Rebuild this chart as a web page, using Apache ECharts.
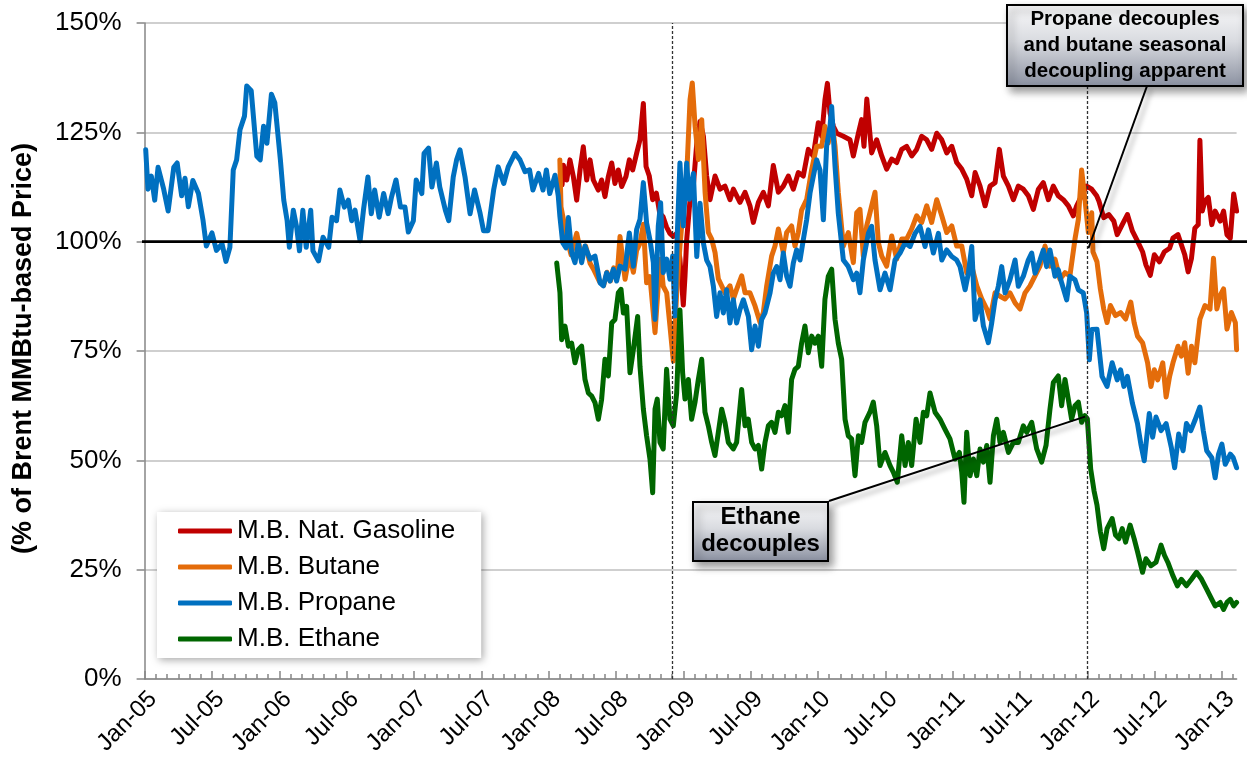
<!DOCTYPE html>
<html><head><meta charset="utf-8">
<script src="https://cdn.jsdelivr.net/npm/echarts@6/dist/echarts.min.js"></script>
<style>html,body{margin:0;padding:0;background:#fff}#c{width:1247px;height:763px}</style>
</head><body><div id="c"></div>
<script>
// x values are months since Jan-05
const xTickLabels = ['Jan-05','Jul-05','Jan-06','Jul-06','Jan-07','Jul-07','Jan-08','Jul-08','Jan-09','Jul-09','Jan-10','Jul-10','Jan-11','Jul-11','Jan-12','Jul-12','Jan-13'];
const seriesNames = ['M.B. Nat. Gasoline','M.B. Butane','M.B. Propane','M.B. Ethane'];
const seriesColors = ['#C00000','#E46C0A','#0070C0','#006600'];
const refLevel = 100;
const eventMonths = [47, 84];
const calloutTexts = ['Propane decouples\nand butane seasonal\ndecoupling apparent', 'Ethane\ndecouples'];
const calloutTargets = [[84.1, 98.5], [83.8, 60]];

const propane = [[0.1,121],[0.3,112],[0.6,115],[0.9,109.5],[1.2,117],[1.7,112],[2.1,107],[2.6,117],[2.9,118],[3.3,110.5],[3.6,114.5],[3.9,108],[4.3,114],[4.8,111],[5.2,105],[5.5,99],[6.0,102],[6.4,98],[6.9,99.5],[7.25,95.5],[7.6,98.7],[7.9,116.4],[8.2,118.7],[8.5,125.6],[8.9,128.7],[9.1,135.6],[9.5,134.5],[10.0,119.5],[10.3,118.7],[10.6,126.4],[10.9,122.5],[11.3,133.7],[11.6,131.8],[12.1,118.7],[12.4,109.5],[12.7,104.8],[12.9,98.7],[13.25,107.2],[13.55,103.3],[13.8,97.9],[14.1,107.2],[14.4,98.7],[14.8,107.2],[15.0,97.9],[15.5,95.6],[15.9,101],[16.4,98.7],[16.7,105.6],[17.1,104.8],[17.4,111.8],[17.8,107.9],[18.15,109.5],[18.45,104.8],[18.75,107.2],[19.2,100.2],[19.5,107.2],[19.9,114.8],[20.2,106.4],[20.5,111.8],[20.9,105.6],[21.3,111],[21.7,106.4],[22.0,110.2],[22.4,114.1],[22.8,107.9],[23.2,107.9],[23.5,102.2],[23.95,104.8],[24.2,114.1],[24.7,111],[24.9,120.2],[25.3,121.4],[25.6,112.5],[26.0,118],[26.3,112.5],[26.8,107.2],[27.1,104.8],[27.5,114.8],[27.8,118.7],[28.1,121],[28.55,114.8],[29.0,106.4],[29.4,111.8],[29.9,106.4],[30.2,102.5],[30.6,102.5],[31.1,111.8],[31.5,117.1],[32.0,113.3],[32.4,117.1],[33.0,120.2],[33.45,118.7],[33.9,116],[34.3,116.4],[34.6,111.8],[35.1,115.6],[35.5,111.8],[35.8,116.4],[36.1,111],[36.57,115.2],[36.86,110.4],[37.0,105.9],[37.25,99.8],[37.55,98.6],[37.76,105.5],[38.05,97.5],[38.35,95.2],[38.65,99.8],[38.94,95.2],[39.24,99],[39.69,96],[40.13,96.7],[40.58,90.6],[40.88,89.9],[41.17,92.9],[41.47,91],[41.77,93.7],[42.06,91],[42.36,94.4],[42.81,93.7],[43.19,102],[43.55,94.4],[43.84,102.8],[44.14,105.1],[44.44,113.5],[44.73,104.3],[45.03,100.4],[45.33,95.2],[45.48,82.2],[45.77,103.6],[45.98,108.9],[46.21,92.9],[46.52,96],[46.81,91.4],[47.05,96.7],[47.26,83],[47.47,102],[47.7,118],[48.0,103.6],[48.3,118],[48.54,109.7],[48.9,115.6],[49.2,96.6],[49.49,108.8],[49.79,99.7],[50.08,95.8],[50.38,94.3],[50.68,89.8],[50.97,82.9],[51.27,88.3],[51.57,83.7],[51.86,89],[52.16,81.4],[52.46,86.7],[52.75,81.4],[53.05,84.5],[53.35,86.7],[53.8,82.9],[54.09,75.3],[54.39,80.7],[54.69,76.1],[54.98,82.2],[55.28,83.7],[55.73,88.3],[56.02,92.8],[56.32,94.3],[56.62,91.3],[56.91,97.4],[57.21,92.1],[57.51,89.8],[57.8,95.1],[58.1,98.1],[58.4,95.8],[58.69,100.4],[58.99,105],[59.29,111.1],[59.58,114.9],[59.88,118.7],[60.18,116.4],[60.48,105],[60.77,121.8],[61.07,126.3],[61.22,130.9],[61.52,117.2],[61.81,106.5],[62.26,95.8],[62.7,94.3],[63.15,91.3],[63.45,92.8],[63.74,88.3],[64.04,95.8],[64.49,101.9],[64.78,103.5],[65.08,95.8],[65.53,89],[65.97,92.8],[66.42,89],[66.86,95.8],[67.31,97.4],[67.76,99.7],[68.2,98.9],[68.65,101.9],[69.09,103.5],[69.54,98.9],[69.84,102.7],[70.28,97.4],[70.73,101.9],[71.03,95.8],[71.47,98.1],[71.92,96.6],[72.36,95.8],[72.66,94.3],[73.11,89],[73.4,92.8],[73.7,98.9],[74.0,82.2],[74.44,86.7],[74.74,80.7],[75.18,76.9],[75.48,81.4],[75.78,86.7],[76.07,89.8],[76.37,94.3],[76.67,88.3],[77.11,91.3],[77.56,95.8],[77.85,89.8],[78.3,92.1],[78.74,95.8],[79.04,97.4],[79.34,92.8],[79.78,95.8],[80.08,98.1],[80.37,94.3],[80.67,98.1],[81.12,92.1],[81.41,93.6],[81.71,90.6],[82.16,86.7],[82.45,92.1],[82.9,91.3],[83.2,89],[83.64,88.3],[83.94,83.7],[84.18,73],[84.39,79.9],[84.86,80],[85.31,69.2],[85.76,66.9],[86.21,72.3],[86.66,68.4],[86.96,70.7],[87.26,66.9],[87.57,69.2],[88.02,63],[88.47,58.4],[88.77,53.7],[89.07,49.9],[89.52,60.7],[89.82,55.3],[90.12,59.9],[90.57,56.8],[91.02,58.4],[91.48,53],[91.78,48.3],[92.14,56],[92.53,52.2],[92.83,58.4],[93.22,56.8],[93.58,59.1],[94.03,62.2],[94.33,56.8],[94.64,52.2],[95.09,50.6],[95.39,46],[95.69,51.4],[95.99,53.7],[96.29,49.1],[96.74,51.4],[97.0,50.6],[97.3,48.3]];

const gasoline = [[37.2,113],[37.31,117.5],[37.61,114.1],[37.9,118.7],[38.2,114.9],[38.5,109.5],[38.8,116.4],[39.09,121.7],[39.39,114.1],[39.69,118.7],[39.98,114.1],[40.43,111.8],[40.72,114.1],[41.02,110.3],[41.32,114.9],[41.62,118],[41.91,113.3],[42.21,116.4],[42.51,112.6],[42.89,114.9],[43.19,118.7],[43.49,116.4],[43.84,120.2],[44.14,123.3],[44.44,131.6],[44.68,117.2],[44.97,115],[45.27,109.6],[45.6,111.1],[45.9,106.5],[46.2,105.7],[46.5,103.4],[46.8,101.9],[47.1,101.2],[47.41,101.9],[47.7,96],[48.0,85.5],[48.15,92],[48.3,100.4],[48.6,109.6],[48.9,113],[49.2,122.5],[49.49,127.5],[49.79,124.1],[50.08,115],[50.38,109.6],[50.83,115],[51.27,112],[51.71,112.7],[52.16,109.6],[52.46,112],[53.05,109],[53.5,111.3],[53.94,108.2],[54.24,104.4],[54.69,109],[55.13,111.3],[55.58,108.2],[56.02,117.4],[56.47,111.3],[56.91,112.7],[57.36,115],[57.8,112],[58.25,115.8],[58.69,115],[59.14,121.1],[59.58,119.6],[60.03,127.2],[60.33,124.1],[60.62,132.4],[60.84,136.2],[61.07,129.4],[61.37,126.4],[61.67,124.8],[62.26,124.1],[62.85,123.3],[63.15,119.6],[63.6,124.8],[63.89,127.9],[64.1,121.8],[64.35,132.6],[64.78,120.3],[65.23,123.3],[65.68,119.6],[66.12,116.6],[66.57,118.9],[67.01,118.1],[67.46,121.1],[67.9,121.8],[68.35,119.6],[68.79,121.1],[69.24,124.1],[69.69,123.3],[70.13,121.1],[70.58,124.8],[71.03,123.3],[71.47,120.3],[71.92,121.8],[72.36,118.1],[72.81,116.6],[73.25,114.3],[73.7,110.5],[74.0,115.8],[74.44,112.7],[74.89,108.2],[75.33,112.7],[75.78,113.5],[76.16,121.1],[76.52,115],[76.97,112.7],[77.41,109.6],[77.85,112.7],[78.3,112],[78.74,110.5],[79.19,107.4],[79.64,112],[80.08,113.5],[80.53,109.6],[80.97,112.7],[81.41,110.5],[81.86,109.6],[82.31,108.2],[82.75,105.9],[83.05,108.2],[83.49,110.5],[83.94,112.7],[84.39,112],[84.83,110.5],[85.03,109.3],[85.46,105.5],[85.91,106.2],[86.36,104.7],[86.66,101.6],[87.11,103.9],[87.57,106.2],[88.02,102.4],[88.47,100.1],[88.92,97.7],[89.22,94.7],[89.61,92.3],[89.97,97],[90.42,95.4],[90.87,97.7],[91.33,98.5],[91.63,100.8],[92.08,101.6],[92.38,99.3],[92.68,97],[92.98,93.1],[93.28,96.2],[93.58,103.1],[93.88,103.9],[94.03,123.2],[94.24,107],[94.48,109.3],[94.78,110.1],[95.09,103.9],[95.39,107],[95.84,104.7],[96.14,107],[96.44,101.6],[96.74,100.8],[97.04,110.9],[97.3,107]];

const butane = [[37.0,118.7],[37.1,108],[37.4,104],[37.7,100],[38.0,97],[38.5,101.9],[38.9,97],[39.3,99],[39.7,95],[40.0,93.7],[40.5,91],[40.9,90],[41.2,93],[41.5,91],[41.8,94],[42.1,92],[42.36,101.2],[42.81,91.4],[43.2,97],[43.55,93],[43.84,98],[44.14,99.6],[44.44,104],[44.73,90.6],[45.03,92],[45.48,79.2],[45.77,90],[45.98,96],[46.21,89.8],[46.52,88.3],[46.81,80.7],[47.11,72.7],[47.41,88.3],[47.7,98.9],[48.0,108],[48.3,115],[48.6,132.5],[48.8,136.3],[49.05,126.4],[49.35,118.8],[49.64,127.9],[49.94,111.3],[50.23,102.1],[50.53,100.6],[50.83,97.5],[51.12,91.5],[51.42,89.9],[51.71,88.3],[52.16,89.9],[52.46,86.9],[52.75,89.1],[53.2,92.2],[53.5,88.3],[53.94,88.3],[54.39,85.3],[54.84,81.5],[55.13,83.8],[55.43,89.9],[55.87,96.7],[56.17,99],[56.47,102.9],[56.91,97.5],[57.21,102.1],[57.65,103.6],[57.95,99],[58.25,102.1],[58.54,107.2],[58.99,109.6],[59.43,116.4],[59.88,121.8],[60.33,121.8],[60.62,126.4],[60.92,122.6],[61.22,127.9],[61.52,121.8],[61.81,111.3],[62.26,99],[62.7,102.1],[63.15,95.2],[63.45,106.6],[63.74,107.4],[64.04,96.7],[64.34,103.6],[64.63,106.6],[65.08,111.3],[65.38,99.8],[65.68,96.7],[66.12,94.4],[66.57,101.3],[67.01,96],[67.46,100.6],[67.9,100.6],[68.35,102.9],[68.79,105.9],[69.24,104.4],[69.69,108.2],[70.13,104.4],[70.58,109.6],[71.03,105.9],[71.47,102.1],[71.92,103.6],[72.36,99],[72.81,99],[73.25,92.9],[73.7,94.4],[74.15,89.9],[74.59,86.9],[75.04,84.6],[75.33,82.3],[75.78,88.3],[76.22,87.5],[76.67,86.9],[77.11,88.3],[77.56,86],[78.0,84.6],[78.45,88.3],[78.89,89.9],[79.34,92.2],[79.78,94.4],[80.23,99],[80.67,94.4],[81.12,96],[81.56,91.4],[82.01,92.9],[82.45,92.2],[82.9,100.6],[83.2,105.1],[83.49,116.4],[83.79,109.6],[84.09,102.1],[84.39,106.6],[84.5,97.7],[84.86,95.4],[85.16,89.2],[85.46,84.6],[85.76,81.5],[86.06,85.4],[86.51,83.1],[86.96,83.8],[87.41,82.3],[87.87,86.2],[88.17,81.5],[88.47,78.4],[88.92,76.9],[89.37,72.3],[89.67,66.9],[89.97,70.7],[90.27,68.4],[90.72,72.3],[91.02,64.5],[91.33,69.2],[91.63,72.3],[92.08,76.1],[92.38,73.8],[92.68,76.9],[92.98,69.9],[93.28,76.1],[93.58,72.3],[94.03,82.3],[94.48,85.4],[94.93,84.6],[95.24,96.2],[95.54,84.6],[95.84,87.7],[96.14,89.2],[96.44,80],[96.83,83.8],[97.19,81.5],[97.3,75.3]];

const ethane = [[36.72,95.1],[37.01,88.3],[37.16,77.6],[37.46,80.7],[37.76,76.1],[38.05,76.8],[38.35,72.3],[38.65,75.3],[38.94,76.1],[39.24,68.5],[39.54,65.4],[39.84,64.7],[40.13,63.2],[40.43,59.4],[40.72,63.9],[41.02,73.1],[41.32,69.3],[41.62,81.4],[41.91,82.2],[42.21,88.3],[42.45,89.1],[42.66,83.7],[42.95,85.2],[43.25,70],[43.55,75.3],[43.93,82.9],[44.14,71.5],[44.44,61.7],[44.73,55.6],[45.03,50.3],[45.27,42.6],[45.48,61.7],[45.68,64],[45.92,54.1],[46.21,52.6],[46.51,70.8],[46.81,59.4],[47.11,57.9],[47.41,65.4],[47.7,84.4],[47.94,70],[48.15,64],[48.45,68.5],[48.74,59.4],[49.04,63.2],[49.34,68.5],[49.64,73.1],[49.93,61],[50.23,57.9],[50.53,54.1],[50.82,51.1],[51.12,56.4],[51.42,61.7],[51.71,58.7],[52.01,54.1],[52.46,52.6],[52.75,54.1],[53.2,66.2],[53.5,57.9],[53.79,59.4],[54.09,54.1],[54.39,52.6],[54.69,53.4],[54.98,48],[55.28,54.1],[55.58,57.9],[55.87,58.7],[56.17,56.4],[56.47,61],[56.76,60.2],[57.06,62.5],[57.36,56.4],[57.65,68.5],[57.95,70.8],[58.25,71.5],[58.54,76.8],[58.84,80.7],[59.14,74.6],[59.44,78.4],[59.73,76.8],[60.03,78.4],[60.33,71.5],[60.62,86.8],[60.92,92.1],[61.22,93.7],[61.52,82.2],[61.81,76.8],[62.11,73.1],[62.41,59.4],[62.7,55.6],[63.0,54.9],[63.3,46.5],[63.6,55.6],[63.89,54.1],[64.19,58.7],[64.63,61],[64.93,63.3],[65.23,57.9],[65.53,48.8],[65.97,51.8],[66.42,48.8],[66.71,47.3],[67.07,45],[67.46,55.6],[67.76,48.8],[68.05,54.1],[68.35,48.8],[68.74,59.4],[69.09,54.1],[69.39,61],[69.69,60.2],[69.98,65.4],[70.43,61],[70.87,59.4],[71.32,57.1],[71.76,54.9],[72.21,50.3],[72.6,51.8],[72.81,47.3],[73.01,40.4],[73.25,56.4],[73.55,46.5],[73.85,50.3],[74.15,46.5],[74.44,52.6],[74.74,49.6],[75.04,53.4],[75.33,45],[75.63,55.6],[75.93,59.4],[76.22,54.1],[76.52,56.4],[76.97,51.8],[77.41,54.1],[77.85,54.1],[78.3,57.9],[78.6,56.4],[79.04,58.7],[79.49,52.6],[79.93,49.6],[80.32,53.4],[80.67,61.7],[80.97,67.8],[81.41,69.3],[81.71,62.5],[82.01,68.5],[82.31,63.9],[82.6,59.4],[82.9,62.5],[83.2,63.3],[83.49,58.7],[83.79,60.2],[84.0,59.5],[84.3,48],[84.6,43],[84.86,39.8],[85.16,33.7],[85.46,29.8],[85.76,34.4],[86.21,36.7],[86.51,32.9],[86.81,32.1],[87.11,34.4],[87.41,31.3],[87.81,35.2],[88.17,32.1],[88.47,29.1],[88.92,24.4],[89.22,27.5],[89.67,25.9],[90.12,26.7],[90.57,30.6],[90.87,28.3],[91.17,26.7],[91.63,23.6],[92.02,21.3],[92.38,22.8],[92.83,21.3],[93.28,22.8],[93.73,24.4],[94.18,22.8],[94.64,20.5],[95.09,18.2],[95.39,16.7],[95.84,17.5],[96.14,15.9],[96.44,17.5],[96.74,18.2],[97.04,16.7],[97.3,17.5]];

const seriesData = [gasoline, butane, propane, ethane];
const FONT = '"Liberation Sans", Arial, sans-serif';
const X_MAX = 97.3;
const monthTicks = []; for (let m = 0; m <= 97; m++) monthTicks.push(m);
const labelTicks = xTickLabels.map((_, i) => i * 6);

const chart = echarts.init(document.getElementById('c'), null, {renderer: 'canvas'});
const series = seriesNames.map((name, i) => ({
  name, type: 'line', data: seriesData[i], showSymbol: false, symbol: 'none',
  color: seriesColors[i],
  lineStyle: {width: 5, color: seriesColors[i], cap: 'round', join: 'round'},
  z: 2 + i, animation: false
}));
series[3].markLine = {
  silent: true, symbol: ['none','none'], label: {show: false}, z: 10,
  lineStyle: {color: '#333', width: 1.3, type: [3, 2]},
  data: eventMonths.map(m => ({xAxis: m}))
};

chart.setOption({
  animation: false,
  grid: {left: 144.6, right: 10.4, top: 23, bottom: 84, containLabel: false},
  legend: {
    data: seriesNames, orient: 'vertical', left: 157, top: 512,
    icon: 'roundRect', itemWidth: 54, itemHeight: 5, itemGap: 6,
    padding: [4, 26, 4, 21], backgroundColor: '#fff',
    shadowBlur: 8, shadowColor: 'rgba(0,0,0,0.35)', shadowOffsetX: 2, shadowOffsetY: 2,
    textStyle: {fontSize: 26, lineHeight: 30, color: '#000', fontFamily: FONT}
  },
  xAxis: [{
    type: 'value', min: 0, max: X_MAX, interval: 1,
    axisLine: {lineStyle: {color: '#868686', width: 1.5}},
    axisTick: {inside: true, length: 5, customValues: monthTicks, lineStyle: {color: '#868686', width: 1.5}},
    axisLabel: {customValues: labelTicks, rotate: 45, align: 'right', verticalAlign: 'top',
      fontSize: 24, color: '#000', fontFamily: FONT, margin: 8,
      formatter: v => xTickLabels[Math.round(v / 6)] || ''},
    splitLine: {show: false}
  }, {
    type: 'value', min: 0, max: X_MAX, position: 'bottom',
    axisLine: {show: false},
    axisTick: {inside: true, length: 8, customValues: labelTicks, lineStyle: {color: '#868686', width: 1.5}},
    axisLabel: {show: false}, splitLine: {show: false}
  }],
  yAxis: {
    type: 'value', min: 0, max: 150, interval: 25,
    name: '(% of Brent MMBtu-based Price)', nameLocation: 'middle', nameGap: 108,
    nameTextStyle: {fontSize: 27, fontWeight: 'bold', color: '#000', fontFamily: FONT, padding: [0, 0, 0, 5]},
    axisLine: {show: true, lineStyle: {color: '#868686', width: 1.5}},
    axisTick: {show: true, length: 8, lineStyle: {color: '#868686', width: 1.5}},
    axisLabel: {formatter: '{value}%', fontSize: 26, color: '#000', fontFamily: FONT, margin: 23},
    splitLine: {lineStyle: {color: '#bfbfbf', width: 1.5}}
  },
  series
});

// annotations anchored through the chart's own scales
const yRef = chart.convertToPixel({yAxisIndex: 0}, refLevel);
const t0 = chart.convertToPixel({xAxisIndex: 0, yAxisIndex: 0}, calloutTargets[0]);
const t1 = chart.convertToPixel({xAxisIndex: 0, yAxisIndex: 0}, calloutTargets[1]);
const boxFill = () => new echarts.graphic.LinearGradient(0, 0, 0, 1, [
  {offset: 0, color: '#fafafb'}, {offset: 0.45, color: '#d9dbe0'}, {offset: 1, color: '#8a90a0'}]);
const shadow = {shadowBlur: 8, shadowOffsetX: 4, shadowOffsetY: 5, shadowColor: 'rgba(0,0,0,0.4)'};
const lineShadow = {shadowBlur: 5, shadowOffsetX: 4, shadowOffsetY: 4, shadowColor: 'rgba(0,0,0,0.35)'};
chart.setOption({
  graphic: [
    {type: 'line', z: 50, shape: {x1: 142, y1: yRef, x2: 1247, y2: yRef}, style: {stroke: '#000', lineWidth: 2.8}},
    {type: 'line', z: 60, shape: {x1: 1147, y1: 86, x2: t0[0], y2: t0[1]},
      style: Object.assign({stroke: '#000', lineWidth: 2}, lineShadow)},
    {type: 'line', z: 60, shape: {x1: 829, y1: 501, x2: t1[0], y2: t1[1]},
      style: Object.assign({stroke: '#000', lineWidth: 2}, lineShadow)},
    {type: 'rect', z: 70, shape: {x: 1007, y: 5, width: 236, height: 81},
      style: Object.assign({fill: boxFill(), stroke: '#000', lineWidth: 2}, shadow)},
    {type: 'text', z: 71, style: {text: calloutTexts[0], x: 1125, y: 45.5, textAlign: 'center', textVerticalAlign: 'middle',
      font: 'bold 20.5px ' + FONT, lineHeight: 26, fill: '#000'}},
    {type: 'rect', z: 70, shape: {x: 693, y: 502, width: 135, height: 59},
      style: Object.assign({fill: boxFill(), stroke: '#000', lineWidth: 2}, shadow)},
    {type: 'text', z: 71, style: {text: calloutTexts[1], x: 760.5, y: 531, textAlign: 'center', textVerticalAlign: 'middle',
      font: 'bold 24px ' + FONT, lineHeight: 27, fill: '#000'}}
  ]
});
</script></body></html>
